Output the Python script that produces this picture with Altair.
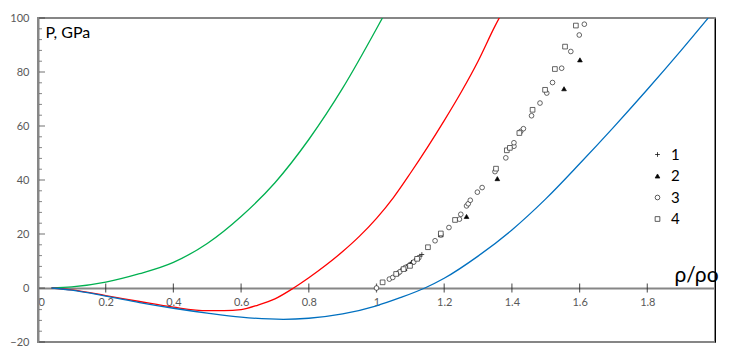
import altair as alt
import pandas as pd

# ---- curves ----
rho_green = [0.04, 0.1, 0.2, 0.3, 0.4, 0.5, 0.6, 0.7, 0.8, 0.9, 1.0, 1.02]
p_green = [0, 0.4, 2.2, 5.3, 9.5, 16.5, 26.5, 39, 55, 74, 96, 100.6]

rho_red = [0.04, 0.1, 0.2, 0.3, 0.4, 0.5, 0.55, 0.6, 0.65, 0.7, 0.755, 0.8, 0.85, 0.9, 0.95,
           1.0, 1.05, 1.1, 1.15, 1.2, 1.25, 1.3, 1.35, 1.38]
p_red = [0, -0.7, -2.8, -5.0, -7.1, -8.4, -8.4, -8.0, -6.3, -4.0, 0, 3.8, 8.4, 13.5, 19.2,
         25.8, 33.5, 42.5, 52, 62, 72.5, 84, 97, 104]

rho_blue = [0.04, 0.1, 0.2, 0.3, 0.4, 0.5, 0.6, 0.725, 0.8, 0.9, 1.0, 1.07, 1.143, 1.2, 1.3,
            1.4, 1.5, 1.6, 1.7, 1.8, 1.9, 1.98]
p_blue = [0, -0.8, -3.0, -5.4, -7.5, -9.3, -10.8, -11.6, -11.2, -9.6, -6.6, -3.6, 0, 3.6, 11.8,
          21.5, 33, 46, 59.5, 73.5, 88, 100]

# ---- experimental points ----
rho1 = [1.0, 1.072, 1.08, 1.088, 1.096, 1.104, 1.112, 1.12, 1.128, 1.134]
p1 = [0, 6.6, 7.3, 8.0, 8.7, 9.5, 10.2, 11.0, 11.8, 12.4]

rho2 = [1.083, 1.105, 1.19, 1.266, 1.357, 1.554, 1.601]
p2 = [7.2, 9.6, 19.7, 26.5, 40.5, 73.8, 84.5]

rho3 = [1.0, 1.038, 1.048, 1.064, 1.069, 1.085, 1.11, 1.125, 1.173, 1.19, 1.214, 1.245, 1.249,
        1.266, 1.271, 1.277, 1.298, 1.312, 1.35, 1.382, 1.406, 1.406, 1.426, 1.434, 1.458, 1.483,
        1.503, 1.52, 1.547, 1.574, 1.599, 1.614]
p3 = [0, 3.3, 3.9, 5.5, 6.0, 7.6, 9.6, 11.2, 17.5, 19.7, 22.4, 25.5, 27.3, 30.4, 31.2, 32.5,
      35.5, 37.2, 43.1, 48.2, 52.5, 53.8, 58, 59, 63.8, 68.5, 72.2, 76.1, 81.4, 87.6, 93.7, 97.7]

rho4 = [1.018, 1.058, 1.08, 1.099, 1.12, 1.152, 1.19, 1.232, 1.353, 1.385, 1.394, 1.422, 1.461,
        1.498, 1.527, 1.557, 1.589]
p4 = [2.1, 5.2, 7.0, 8.2, 10.8, 15.1, 20.2, 25.2, 44.2, 51.0, 51.9, 57.4, 66, 73.4, 81.1, 89.4, 97.2]

x_ticks = [0, 0.2, 0.4, 0.6, 0.8, 1.0, 1.2, 1.4, 1.6, 1.8]
y_labels = [-20, 0, 20, 40, 60, 80, 100]
y_minor = [v for v in range(-20, 101, 4) if v % 20 != 0]

curve_names = ["green", "red", "blue"]
curve_colors = ["#00B050", "#FF0000", "#0070C0"]
series_names = ["1", "2", "3", "4"]

rows = []
for name, rs, ps in [("green", rho_green, p_green), ("red", rho_red, p_red), ("blue", rho_blue, p_blue)]:
    for i, (r, p) in enumerate(zip(rs, ps)):
        rows.append({"curve": name, "rho": r, "p": p, "i": i})
curves = pd.DataFrame(rows)

prow = []
for name, rs, ps in [("1", rho1, p1), ("2", rho2, p2), ("3", rho3, p3), ("4", rho4, p4)]:
    for r, p in zip(rs, ps):
        prow.append({"series": name, "rho": r, "p": p})
pts = pd.DataFrame(prow)

xt = pd.DataFrame({"v": x_ticks[1:]})
yt_major = pd.DataFrame({"v": y_labels})
yt_minor = pd.DataFrame({"v": y_minor})

W, H = 677, 324
FONT = "Lato"
xscale = alt.Scale(domain=[0, 2], nice=False, zero=False)
yscale = alt.Scale(domain=[-20, 100], nice=False, zero=False)

shape_scale = alt.Scale(domain=series_names,
                        range=["M-1,0L1,0M0,-1L0,1", "triangle-up", "circle", "square"])
fill_scale = alt.Scale(domain=series_names, range=["transparent", "black", "white", "white"])
stroke_scale = alt.Scale(domain=series_names, range=["#111", "#111", "#333", "#333"])
leg = alt.Legend(title=None, orient="none", legendX=612, legendY=129, labelFont=FONT,
                 labelFontSize=15, labelColor="black", symbolSize=22, labelOffset=6,
                 rowPadding=5.5, symbolStrokeWidth=0.8)

lines = alt.Chart(curves).mark_line(strokeWidth=1.3, interpolate="monotone", clip=True).encode(
    x=alt.X("rho:Q", scale=xscale,
            axis=alt.Axis(orient="bottom", offset=-54, values=x_ticks, format="~g", grid=False,
                          domainColor="#868686", domainWidth=2, tickColor="transparent",
                          tickSize=5, labelPadding=3, labelFont=FONT, labelFontSize=11,
                          labelColor="#595959", title="ρ/ρo", titleFont=FONT, titleFontSize=21,
                          titleFontWeight="normal", titleColor="black", titleAnchor="start",
                          titleAlign="left", titleX=636, titleY=-7, titleBaseline="alphabetic")),
    y=alt.Y("p:Q", scale=yscale,
            axis=alt.Axis(orient="left", values=y_labels, grid=False, ticks=False,
                          domainColor="#868686", domainWidth=2, labelPadding=9, labelFont=FONT,
                          labelFontSize=11, labelColor="#595959", title="P, GPa",
                          titleFont=FONT, titleFontSize=16, titleFontWeight="normal",
                          titleColor="black", titleAngle=0, titleAlign="left",
                          titleBaseline="top", titleX=7, titleY=6)),
    color=alt.Color("curve:N", scale=alt.Scale(domain=curve_names, range=curve_colors), legend=None),
    detail="curve:N",
    order="i:Q",
)

# tick marks crossing the zero line (x) and pointing inward from the left axis (y)
x_tick_marks = alt.Chart(xt).mark_tick(orient="vertical", size=9, thickness=1.2, color="#222").encode(
    x=alt.X("v:Q", scale=xscale, axis=None),
    y=alt.Y(datum=0, scale=yscale, axis=None),
)
y_minor_marks = alt.Chart(yt_minor).mark_tick(orient="horizontal", size=3, thickness=1,
                                              xOffset=2.5, color="#555").encode(
    y=alt.Y("v:Q", scale=yscale, axis=None),
    x=alt.X(datum=0, scale=xscale, axis=None),
)
y_major_marks = alt.Chart(yt_major).mark_tick(orient="horizontal", size=6, thickness=1,
                                              xOffset=4, color="#333").encode(
    y=alt.Y("v:Q", scale=yscale, axis=None),
    x=alt.X(datum=0, scale=xscale, axis=None),
)

points = alt.Chart(pts).mark_point(strokeWidth=0.75, opacity=1, size=22).encode(
    x=alt.X("rho:Q", scale=xscale, axis=None),
    y=alt.Y("p:Q", scale=yscale,
            axis=alt.Axis(orient="right", offset=0, values=y_labels, labels=False, ticks=False,
                          grid=False, domainColor="black", domainWidth=1, title=None)),
    shape=alt.Shape("series:N", scale=shape_scale, legend=leg),
    fill=alt.Fill("series:N", scale=fill_scale, legend=leg),
    stroke=alt.Stroke("series:N", scale=stroke_scale, legend=leg),
)

chart = alt.layer(lines, x_tick_marks, y_minor_marks, y_major_marks, points).resolve_axis(
    x="independent", y="independent"
).properties(
    width=W, height=H,
    autosize=alt.AutoSizeParams(type="none"),
    padding={"left": 30, "top": 10, "right": 24, "bottom": 9},
    background="white",
).configure_view(stroke="#868686", strokeWidth=2)

chart.save("out.html", embed_options={"renderer": "svg", "actions": False})
